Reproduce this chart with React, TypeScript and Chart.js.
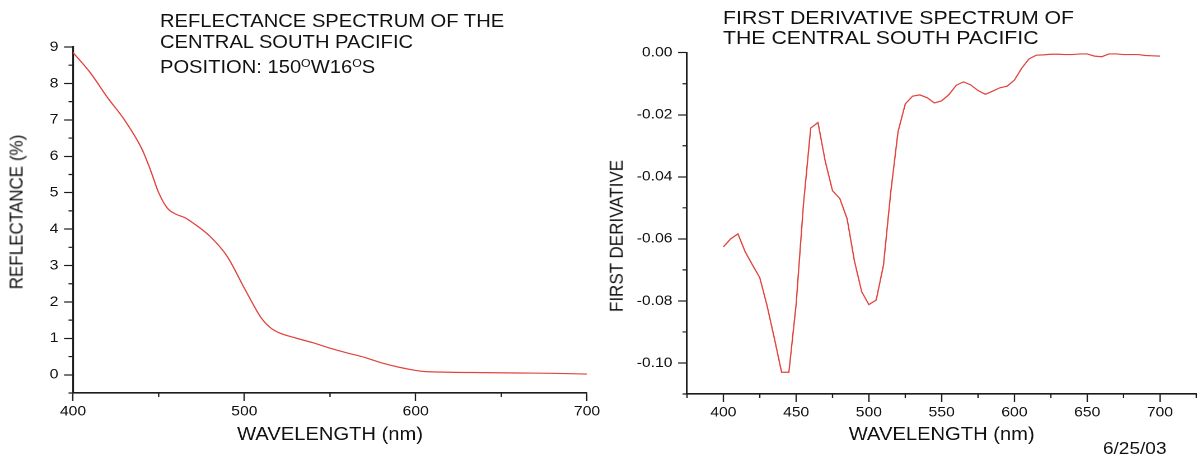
import React, { useEffect, useRef } from 'react';
import { Chart, registerables } from 'chart.js';

Chart.register(...registerables);

// ---------------- data ----------------
const reflectanceWavelengths = [400, 410, 420, 430, 440, 445, 450, 455, 460, 465, 470, 480, 490, 500, 510, 515, 520, 530, 540, 550, 560, 570, 580, 590, 600, 605, 620, 640, 660, 680, 700];
const reflectanceValues = [8.85, 8.30, 7.62, 7.00, 6.22, 5.65, 5.00, 4.58, 4.41, 4.32, 4.17, 3.80, 3.25, 2.38, 1.55, 1.30, 1.16, 1.01, 0.88, 0.73, 0.60, 0.48, 0.33, 0.21, 0.12, 0.09, 0.07, 0.06, 0.05, 0.04, 0.02];

const derivativeWavelengths = [400, 405, 410, 415, 420, 425, 430, 435, 440, 445, 450, 455, 460, 465, 470, 475, 480, 485, 490, 495, 500, 505, 510, 515, 520, 525, 530, 535, 540, 545, 550, 555, 560, 565, 570, 575, 580, 585, 590, 595, 600, 605, 610, 615, 620, 625, 630, 635, 640, 645, 650, 655, 660, 665, 670, 675, 680, 685, 690, 695, 700];
const firstDerivativeValues = [
  -0.0626, -0.0600, -0.0584, -0.0642, -0.0684, -0.0725, -0.0815, -0.0920, -0.1030, -0.1030,
  -0.0810, -0.0490, -0.0243, -0.0225, -0.0350, -0.0445, -0.0470, -0.0535, -0.0670, -0.0770,
  -0.0812, -0.0797, -0.0685, -0.0450, -0.0255, -0.0165, -0.0140, -0.0136, -0.0145, -0.0162,
  -0.0155, -0.0135, -0.0105, -0.0094, -0.0104, -0.0122, -0.0134, -0.0124, -0.0113, -0.0108,
  -0.0088, -0.0050, -0.0020, -0.0008, -0.0007, -0.0005, -0.0005, -0.0006, -0.0006, -0.0004,
  -0.0004, -0.0011, -0.0013, -0.0004, -0.0004, -0.0006, -0.0006, -0.0006, -0.0009, -0.0010,
  -0.0011,
];

const reflectanceXTicks = [400, 500, 600, 700];
const reflectanceYTicks = [0, 1, 2, 3, 4, 5, 6, 7, 8, 9];
const derivativeXTicks = [400, 450, 500, 550, 600, 650, 700];
const derivativeYTicks = [-0.1, -0.08, -0.06, -0.04, -0.02, 0];

const leftTitleLines = ['REFLECTANCE SPECTRUM OF THE', 'CENTRAL SOUTH PACIFIC'];
const rightTitleLines = ['FIRST DERIVATIVE SPECTRUM OF', 'THE CENTRAL SOUTH PACIFIC'];
const dateLabel = '6/25/03';

// ---------------- styling ----------------
const FONT = '"Liberation Sans", Arial, Helvetica, sans-serif';
const AXIS_COLOR = '#1c1c1c';
const TEXT_COLOR = '#111111';
const LINE_COLOR = '#e0443e';
const STRETCH = 1197 / 1069; // the reference is horizontally stretched
const MAJOR_TICK = 8;
const MINOR_TICK = 4;

const minorTicksPlugin = {
  id: 'minorTicks',
  afterDraw(chart: any) {
    const ctx = chart.ctx;
    ctx.save();
    ctx.strokeStyle = AXIS_COLOR;
    ctx.lineWidth = 1.2;
    ['x', 'y'].forEach((id) => {
      const scale = chart.scales[id];
      if (!scale) return;
      const vals = scale.ticks.map((t: any) => t.value).sort((a: number, b: number) => a - b);
      if (vals.length < 2) return;
      const step = vals[1] - vals[0];
      const minors: number[] = [];
      for (let i = 0; i < vals.length - 1; i++) minors.push((vals[i] + vals[i + 1]) / 2);
      const lo = vals[0] - step / 2;
      const hi = vals[vals.length - 1] + step / 2;
      if (lo >= scale.min - 1e-9) minors.unshift(lo);
      if (hi <= scale.max + 1e-9) minors.push(hi);
      ctx.beginPath();
      minors.forEach((v) => {
        const p = scale.getPixelForValue(v);
        if (scale.isHorizontal()) {
          ctx.moveTo(p, scale.top);
          ctx.lineTo(p, scale.top + MINOR_TICK);
        } else {
          ctx.moveTo(scale.right, p);
          ctx.lineTo(scale.right - MINOR_TICK, p);
        }
      });
      ctx.stroke();
    });
    ctx.restore();
  },
};

function makeAxis(opts: {
  min: number;
  max: number;
  tickValues: number[];
  format: (v: number) => string;
  fixedSize: number;
  horizontal: boolean;
  title?: string;
}) {
  return {
    type: 'linear',
    min: opts.min,
    max: opts.max,
    afterBuildTicks: (scale: any) => {
      scale.ticks = opts.tickValues.map((v) => ({ value: v }));
    },
    afterFit: (scale: any) => {
      if (opts.horizontal) scale.height = opts.fixedSize;
      else scale.width = opts.fixedSize;
    },
    ticks: {
      autoSkip: false,
      maxRotation: 0,
      padding: opts.horizontal ? 2 : 5,
      color: TEXT_COLOR,
      font: { family: FONT, size: 14 },
      callback: (v: any) => opts.format(Number(v)),
    },
    grid: {
      drawOnChartArea: false,
      drawTicks: true,
      tickLength: MAJOR_TICK,
      tickColor: AXIS_COLOR,
      tickWidth: 1.2,
    },
    border: { display: true, color: AXIS_COLOR, width: 1.6 },
    title: opts.title
      ? {
          display: true,
          text: opts.title,
          color: TEXT_COLOR,
          font: { family: FONT, size: 18 },
          padding: { top: 0, bottom: 10 },
        }
      : { display: false },
  };
}

function ChartCanvas({ config, left, width }: { config: any; left: number; width: number }) {
  const ref = useRef<HTMLCanvasElement>(null);
  useEffect(() => {
    const chart = new Chart(ref.current as HTMLCanvasElement, config);
    return () => chart.destroy();
  }, []);
  return (
    <div style={{ position: 'absolute', left, top: 0, width, height: 456 }}>
      <canvas ref={ref} />
    </div>
  );
}

const LEFT_W = 540;
const RIGHT_W = 1069 - LEFT_W;

const leftConfig = {
  type: 'line',
  data: {
    datasets: [
      {
        data: reflectanceWavelengths.map((x, i) => ({ x, y: reflectanceValues[i] })),
        borderColor: LINE_COLOR,
        borderWidth: 1.2,
        pointRadius: 0,
        cubicInterpolationMode: 'monotone',
        fill: false,
      },
    ],
  },
  options: {
    animation: false,
    responsive: true,
    maintainAspectRatio: false,
    devicePixelRatio: 2,
    layout: { padding: { top: 47, right: LEFT_W - 587 / STRETCH, left: 0, bottom: 0 } },
    plugins: { legend: { display: false }, tooltip: { enabled: false } },
    scales: {
      x: makeAxis({
        min: 400,
        max: 700,
        tickValues: reflectanceXTicks,
        format: (v) => String(v),
        fixedSize: 456 - 393,
        horizontal: true,
        title: 'WAVELENGTH (nm)',
      }),
      y: makeAxis({
        min: -0.5,
        max: 9,
        tickValues: reflectanceYTicks,
        format: (v) => String(v),
        fixedSize: 73 / STRETCH,
        horizontal: false,
      }),
    },
  },
  plugins: [minorTicksPlugin],
};

const rightConfig = {
  type: 'line',
  data: {
    datasets: [
      {
        data: derivativeWavelengths.map((x, i) => ({ x, y: firstDerivativeValues[i] })),
        borderColor: LINE_COLOR,
        borderWidth: 1.2,
        pointRadius: 0,
        tension: 0,
        fill: false,
      },
    ],
  },
  options: {
    animation: false,
    responsive: true,
    maintainAspectRatio: false,
    devicePixelRatio: 2,
    layout: { padding: { top: 52.7, right: 0, left: 0, bottom: 0 } },
    plugins: { legend: { display: false }, tooltip: { enabled: false } },
    scales: {
      x: makeAxis({
        min: 375,
        max: 725,
        tickValues: derivativeXTicks,
        format: (v) => String(v),
        fixedSize: 456 - 394,
        horizontal: true,
        title: 'WAVELENGTH (nm)',
      }),
      y: makeAxis({
        min: -0.11,
        max: 0,
        tickValues: derivativeYTicks,
        format: (v) => v.toFixed(2),
        fixedSize: 687 / STRETCH - LEFT_W,
        horizontal: false,
      }),
    },
  },
  plugins: [minorTicksPlugin],
};

const textBase: React.CSSProperties = {
  position: 'absolute',
  fontFamily: FONT,
  color: TEXT_COLOR,
  whiteSpace: 'nowrap',
  lineHeight: '20px',
};

function VerticalLabel({ text, cx, cy }: { text: string; cx: number; cy: number }) {
  return (
    <div
      style={{
        ...textBase,
        left: cx,
        top: cy,
        fontSize: 17,
        transform: 'translate(-50%, -50%) rotate(-90deg)',
      }}
    >
      {text}
    </div>
  );
}

const sup: React.CSSProperties = { fontSize: 11, position: 'relative', top: -6 };

export default function App() {
  useEffect(() => {
    document.body.style.margin = '0';
    document.documentElement.style.overflow = 'hidden';
    document.body.style.overflow = 'hidden';
  }, []);
  return (
    <div
      style={{
        position: 'absolute',
        left: 0,
        top: 0,
        width: 1069,
        height: 456,
        background: '#ffffff',
        transform: `scaleX(${STRETCH})`,
        transformOrigin: '0 0',
        overflow: 'hidden',
      }}
    >
      <ChartCanvas config={leftConfig} left={0} width={LEFT_W} />
      <ChartCanvas config={rightConfig} left={LEFT_W} width={RIGHT_W} />

      <div style={{ ...textBase, left: 160 / STRETCH, top: 11, fontSize: 18 }}>{leftTitleLines[0]}</div>
      <div style={{ ...textBase, left: 160 / STRETCH, top: 32, fontSize: 18 }}>{leftTitleLines[1]}</div>
      <div style={{ ...textBase, left: 160 / STRETCH, top: 57, fontSize: 18 }}>
        POSITION: 150<span style={sup}>O</span>W16<span style={sup}>O</span>S
      </div>

      <div style={{ ...textBase, left: 723 / STRETCH, top: 8, fontSize: 19 }}>{rightTitleLines[0]}</div>
      <div style={{ ...textBase, left: 723 / STRETCH, top: 28, fontSize: 19 }}>{rightTitleLines[1]}</div>

      <VerticalLabel text="REFLECTANCE (%)" cx={17 / STRETCH} cy={212} />
      <VerticalLabel text="FIRST DERIVATIVE" cx={617 / STRETCH} cy={236} />

      <div style={{ ...textBase, left: 1103 / STRETCH, top: 439, fontSize: 17 }}>{dateLabel}</div>
    </div>
  );
}
